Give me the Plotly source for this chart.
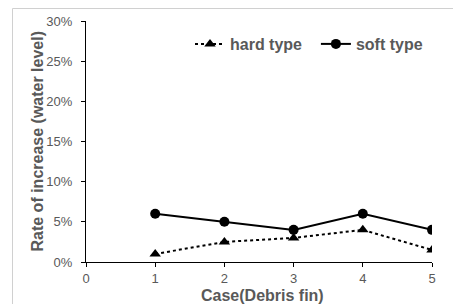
import plotly.graph_objects as go

cases = [1, 2, 3, 4, 5]
hard_type = [1.0, 2.5, 3.0, 4.0, 1.5]
soft_type = [6.0, 5.0, 4.0, 6.0, 4.0]
y_ticks = [0, 5, 10, 15, 20, 25, 30]
y_tick_labels = ["0%", "5%", "10%", "15%", "20%", "25%", "30%"]
x_ticks = [0, 1, 2, 3, 4, 5]

OFF = 8  # default page body margin
W, H = 461 - OFF, 304 - OFF
L, R, T, B = 86 - OFF, 29, 21 - OFF, 42
PW, PH = W - L - R, H - T - B


def px_x(sx):
    return (sx - OFF - L) / PW


def px_y(sy):
    return 1 - (sy - OFF - T) / PH


fig = go.Figure()
fig.add_trace(go.Scatter(x=cases, y=hard_type, name="<b>hard type</b>&nbsp;&nbsp;", mode="lines+markers",
                         line=dict(color="black", width=2, dash="dot"),
                         marker=dict(symbol="triangle-up", size=10, color="black")))
fig.add_trace(go.Scatter(x=cases, y=soft_type, name="<b>soft type</b>", mode="lines+markers",
                         line=dict(color="black", width=2),
                         marker=dict(symbol="circle", size=10, color="black")))

fig.update_layout(
    width=W, height=H,
    margin=dict(l=L, r=R, t=T, b=B),
    paper_bgcolor="white", plot_bgcolor="white",
    font=dict(family="Liberation Sans, Arial", color="#595959", size=12),
    showlegend=True,
    legend=dict(orientation="h", x=px_x(190), y=px_y(44), xanchor="left", yanchor="middle",
                font=dict(size=16, color="#595959", family="Liberation Sans, Arial"),
                bgcolor="rgba(0,0,0,0)", itemwidth=30, tracegroupgap=0),
    xaxis=dict(range=[0, 5], tickvals=x_ticks, showgrid=False, zeroline=False, automargin=False,
               showline=True, linecolor="black", linewidth=1,
               ticks="outside", ticklen=4, tickcolor="black",
               tickfont=dict(size=13, color="#595959")),
    yaxis=dict(range=[0, 30], tickvals=y_ticks, ticktext=y_tick_labels, showgrid=False, zeroline=False,
               automargin=False,
               showline=True, linecolor="black", linewidth=1,
               ticks="outside", ticklen=4, tickcolor="black", ticklabelstandoff=6,
               tickfont=dict(size=13, color="#595959")),
)

fig.add_annotation(text="<b>Case(Debris fin)</b>", xref="paper", yref="paper",
                   x=px_x(262), y=px_y(295), showarrow=False,
                   xanchor="center", yanchor="middle", font=dict(size=16, color="#595959"))
fig.add_annotation(text="<b>Rate of increase (water level)</b>", xref="paper", yref="paper",
                   x=px_x(37), y=px_y(141.5), showarrow=False, textangle=-90,
                   xanchor="center", yanchor="middle", font=dict(size=16, color="#595959"))

# light chart-area frame (left and top edges visible)
fig.add_shape(type="rect", xref="paper", yref="paper", x0=px_x(12.5), x1=1.2, y0=-0.5, y1=px_y(8.5),
              line=dict(color="#d0d0d0", width=1), fillcolor="rgba(0,0,0,0)", layer="below")

fig.write_html("out.html", config={"displayModeBar": False})
